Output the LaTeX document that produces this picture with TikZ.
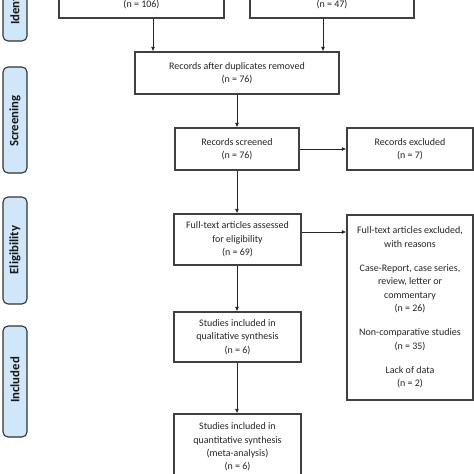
\documentclass[tikz,border=0pt]{standalone}
\usepackage{fontspec}
\setmainfont{Carlito}
\usetikzlibrary{arrows.meta,calc}
\definecolor{tabblue}{HTML}{CFE7F8}
\definecolor{boxline}{HTML}{404040}
\tikzset{
  flowbox/.style={draw=boxline, line width=1.1pt, fill=white, align=center,
    font=\fontsize{10}{13.3}\selectfont, inner sep=2pt, text=black!85},
  phasetab/.style={draw=black!80, line width=1.1pt, fill=tabblue, rounded corners=5pt,
    minimum width=24pt, inner sep=0pt},
  phasetext/.style={rotate=90, font=\fontsize{12.8}{14}\selectfont\bfseries, text=black!90},
  arr/.style={draw=black!85, line width=0.9pt, -{Latex[length=4.5pt,width=4pt]}}
}
\begin{document}
\begin{tikzpicture}[x=1pt,y=-1pt]
\useasboundingbox (0,0) rectangle (474,474);
\clip (0,0) rectangle (474,474);
\fill[white] (0,0) rectangle (474,474);

% phase tabs
\node[phasetab, minimum height=103pt] (tabid) at (15,-10.5) {};
\node[phasetext] (tidtext) at (15,-10.5) {Identification};
\node[phasetab, minimum height=106pt] (tabscr) at (15,120) {};
\node[phasetext] (tscrtext) at (15,121) {Screening};
\node[phasetab, minimum height=107pt] (tabel) at (15,250.5) {};
\node[phasetext] (teltext) at (15,250) {Eligibility};
\node[phasetab, minimum height=111pt] (tabinc) at (15,381.5) {};
\node[phasetext] (tinctext) at (15,380) {Included};

% top boxes (cut off)
\node[flowbox, anchor=south, minimum width=165pt, text height=34.5pt, text depth=7.5pt, inner ysep=3pt] (tl) at (141.5,18.5) {(n = 106)};
\node[flowbox, anchor=south, minimum width=164pt, text height=34.5pt, text depth=7.5pt, inner ysep=3pt] (tr) at (332,18.5) {(n = 47)};

\node[flowbox, minimum width=204pt, minimum height=42pt] (dup) at (237,73) {Records after duplicates removed\\(n = 76)};
\node[flowbox, minimum width=124pt, minimum height=42pt] (scr) at (237,149) {Records screened\\(n = 76)};
\node[flowbox, minimum width=126pt, minimum height=42pt] (ex1) at (410,149) {Records excluded\\(n = 7)};
\node[flowbox, minimum width=127pt, minimum height=51pt] (ft) at (237.5,239.5) {Full-text articles assessed\\for eligibility\\(n = 69)};
\node[flowbox, minimum width=126pt, minimum height=185pt] (ex2) at (410,307.5) {Full-text articles excluded,\\with reasons\\[11pt]Case-Report, case series,\\review, letter or\\commentary\\(n = 26)\\[11pt]Non-comparative studies\\(n = 35)\\[11pt]Lack of data\\(n = 2)};
\node[flowbox, minimum width=127pt, minimum height=50pt] (qual) at (237.5,337) {Studies included in\\qualitative synthesis\\(n = 6)};
\node[flowbox, minimum width=127pt, minimum height=66pt] (quant) at (237.5,447) {Studies included in\\quantitative synthesis\\(meta-analysis)\\(n = 6)};

% connectors
\draw[arr] ([xshift=11.5pt]tl.south) -- ([xshift=11.5pt]tl.south |- dup.north);
\draw[arr] ([xshift=-9pt]tr.south) -- ([xshift=-9pt]tr.south |- dup.north);
\draw[arr] (dup.south) -- (scr.north);
\draw[arr] (scr.east) -- (ex1.west);
\draw[arr] (scr.south) -- (ft.north -| scr.south);
\draw[arr] ([yshift=7.5pt]ft.east) -- ([yshift=7.5pt]ft.east -| ex2.west);
\draw[arr] (ft.south -| scr.south) -- (qual.north -| scr.south);
\draw[arr] (qual.south -| scr.south) -- (quant.north -| scr.south);
\end{tikzpicture}
\end{document}
